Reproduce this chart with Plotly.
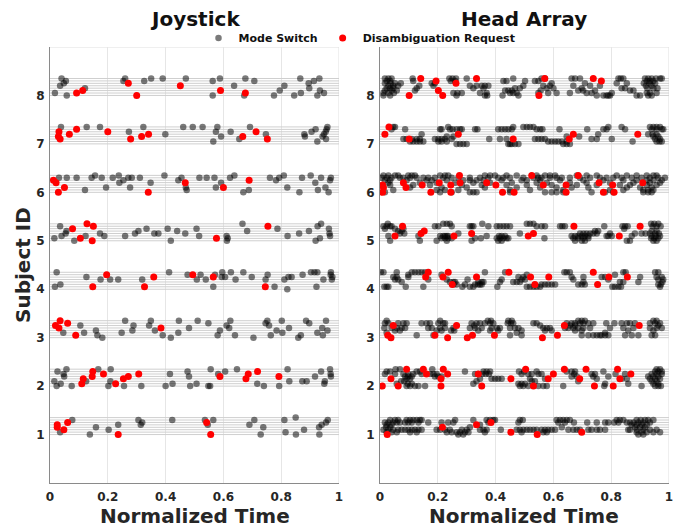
import plotly.graph_objects as go

# ---------------- data ----------------
subjects = [1, 2, 3, 4, 5, 6, 7, 8]
levels = [0, 1, 2, 3, 4, 5, 6, 7]      # band level inside each subject row
level_step = 0.05                       # y offset per band level
x_ticks = [0, 0.2, 0.4, 0.6, 0.8, 1]
x_tick_text = ["0", "0.2", "0.4", "0.6", "0.8", "1"]
panel_titles = ["Joystick", "Head Array"]

# Joystick: (normalized time, band level)
js1_mode = [(0.035,1),(0.077,6),(0.138,0),(0.159,3),(0.203,2),(0.236,4),(0.306,6),(0.314,4),(0.319,5),(0.423,6),(0.536,6),(0.546,4),(0.565,6),(0.690,4),(0.707,6),(0.729,0),(0.738,3),(0.811,6),(0.815,1),(0.850,7),(0.851,0),(0.879,2),(0.931,3),(0.932,0),(0.940,4),(0.955,5),(0.961,6)]
js1_dis = [(0.025,4),(0.025,3),(0.048,2),(0.061,5),(0.236,0),(0.542,5),(0.556,0)]
js2_mode = [(0.015,2),(0.023,0),(0.026,6),(0.037,1),(0.047,5),(0.049,4),(0.057,7),(0.075,0),(0.125,2),(0.167,7),(0.202,0),(0.210,7),(0.209,2),(0.256,0),(0.316,0),(0.400,0),(0.415,5),(0.424,1),(0.476,6),(0.481,4),(0.485,0),(0.507,1),(0.548,0),(0.554,0),(0.556,7),(0.582,5),(0.606,6),(0.647,7),(0.717,1),(0.740,0),(0.793,0),(0.822,7),(0.828,2),(0.873,2),(0.888,2),(0.917,4),(0.938,6),(0.949,1),(0.951,2),(0.969,7),(0.971,5),(0.972,4)]
js2_dis = [(0.110,1),(0.115,3),(0.148,6),(0.146,4),(0.185,5),(0.227,1),(0.254,3),(0.271,4),(0.307,5),(0.588,4),(0.678,3),(0.686,5),(0.718,6),(0.792,4)]
js3_mode = [(0.046,2),(0.105,5),(0.118,2),(0.159,3),(0.164,1),(0.181,0),(0.248,2),(0.260,7),(0.285,3),(0.289,5),(0.343,5),(0.349,7),(0.363,3),(0.390,1),(0.418,0),(0.444,2),(0.446,7),(0.481,4),(0.511,7),(0.548,6),(0.580,1),(0.588,3),(0.611,5),(0.624,7),(0.620,4),(0.640,1),(0.704,0),(0.746,6),(0.752,7),(0.758,5),(0.764,1),(0.784,3),(0.804,2),(0.802,7),(0.827,4),(0.859,0),(0.868,1),(0.886,7),(0.897,6),(0.925,2),(0.942,4),(0.944,1),(0.955,7),(0.960,3)]
js3_dis = [(0.019,5),(0.035,7),(0.031,4),(0.061,6),(0.089,1),(0.384,4)]
js4_mode = [(0.017,1),(0.023,7),(0.036,2),(0.126,5),(0.175,4),(0.208,4),(0.236,4),(0.319,4),(0.412,7),(0.476,6),(0.521,6),(0.508,4),(0.539,4),(0.565,1),(0.571,6),(0.596,7),(0.594,5),(0.606,5),(0.626,7),(0.642,4),(0.669,7),(0.698,5),(0.746,4),(0.753,6),(0.777,1),(0.811,4),(0.821,0),(0.825,5),(0.836,5),(0.874,6),(0.903,7),(0.915,7),(0.925,7),(0.922,1),(0.946,4),(0.971,6),(0.972,7),(0.977,5),(0.975,4)]
js4_dis = [(0.148,1),(0.196,6),(0.327,1),(0.359,5),(0.494,6),(0.565,5),(0.745,1)]
js5_mode = [(0.015,1),(0.035,6),(0.040,2),(0.054,3),(0.057,4),(0.084,0),(0.123,2),(0.173,3),(0.188,2),(0.260,2),(0.294,3),(0.306,4),(0.334,5),(0.361,3),(0.375,3),(0.407,5),(0.418,0),(0.440,4),(0.468,3),(0.507,5),(0.516,2),(0.611,2),(0.612,0),(0.615,1),(0.666,7),(0.682,4),(0.787,5),(0.822,2),(0.862,3),(0.896,4),(0.926,6),(0.938,7),(0.919,0),(0.934,1),(0.965,5),(0.967,3),(0.969,2)]
js5_dis = [(0.078,5),(0.105,1),(0.128,7),(0.150,6),(0.146,0),(0.576,1),(0.754,6)]
js6_mode = [(0.031,6),(0.058,6),(0.092,6),(0.121,1),(0.144,6),(0.156,7),(0.179,6),(0.194,2),(0.217,6),(0.238,7),(0.240,4),(0.254,5),(0.271,6),(0.283,6),(0.277,2),(0.311,6),(0.348,4),(0.396,7),(0.444,5),(0.455,6),(0.470,2),(0.473,1),(0.517,6),(0.542,6),(0.569,6),(0.574,2),(0.592,4),(0.623,6),(0.638,7),(0.669,0),(0.688,1),(0.761,6),(0.782,5),(0.793,6),(0.809,7),(0.821,2),(0.863,0),(0.872,6),(0.902,7),(0.918,4),(0.927,1),(0.938,6),(0.953,2),(0.964,0),(0.969,5),(0.972,6)]
js6_dis = [(0.012,5),(0.021,4),(0.029,0),(0.050,2),(0.340,0),(0.468,4),(0.600,2),(0.689,5)]
js7_mode = [(0.038,7),(0.127,7),(0.173,7),(0.273,5),(0.323,7),(0.399,4),(0.461,7),(0.494,7),(0.528,7),(0.579,7),(0.574,5),(0.565,1),(0.592,3),(0.625,5),(0.655,2),(0.692,7),(0.747,4),(0.880,4),(0.882,3),(0.905,5),(0.919,6),(0.925,1),(0.948,4),(0.954,5),(0.960,7),(0.957,6),(0.955,2),(0.943,3)]
js7_dis = [(0.031,5),(0.029,3),(0.035,2),(0.067,4),(0.092,6),(0.200,5),(0.279,2),(0.317,3),(0.341,4),(0.667,3),(0.713,5),(0.752,2)]
js8_mode = [(0.017,1),(0.035,4),(0.040,7),(0.048,5),(0.055,6),(0.058,0),(0.121,3),(0.254,6),(0.260,7),(0.326,6),(0.350,7),(0.390,7),(0.470,7),(0.563,6),(0.563,0),(0.588,7),(0.637,4),(0.672,0),(0.676,7),(0.707,6),(0.775,0),(0.795,2),(0.811,4),(0.845,0),(0.866,7),(0.868,1),(0.895,5),(0.897,3),(0.913,6),(0.932,7),(0.925,0),(0.934,2),(0.948,1)]
js8_dis = [(0.092,1),(0.113,2),(0.271,5),(0.300,0),(0.451,4),(0.590,2),(0.676,1)]

# Head Array: mode switches grouped by band level -> normalized times
ha1_mode = {
    6: [.035,.052,.063,.092,.104,.115,.127,.138,.144,.260,.323,.369,.381,.392,.398,.484,.494,.611,.623,.634,.646,.657,.819,.830,.842,.888,.902,.917,.928,.946],
    5: [.017,.029,.046,.058,.069,.087,.098,.110,.133,.167,.213,.236,.254,.375,.479,.617,.640,.671,.717,.750,.779,.790,.810,.825,.854,.865,.877,.894,.911,.934],
    4: [.023,.040,.346,.871,.888,.905,.923],
    3: [.021,.035,.311,.629,.882,.900,.917],
    2: [.012,.029,.046,.063,.075,.087,.098,.110,.121,.133,.144,.196,.208,.225,.242,.283,.300,.346,.358,.369,.418,.473,.484,.496,.508,.519,.531,.542,.559,.571,.582,.594,.606,.652,.669,.681,.692,.721,.732,.750,.761,.779,.859,.865,.888,.911,.934,.957],
    1: [.023,.040,.058,.104,.127,.231,.248,.265,.277,.294,.306,.363,.490,.565,.577,.888,.905,.923,.946,.969],
    0: [.271,.288,.894,.911],
}
ha1_dis = [(0.025,0),(0.216,3),(0.334,4),(0.384,5),(0.453,1),(0.544,0),(0.698,1)]
ha2_mode = {
    7: [.054,.069,.181,.957,.969],
    6: [.023,.035,.127,.138,.294,.358,.369,.381,.481,.499,.542,.646,.663,.675,.773,.952,.963,.975],
    5: [.017,.052,.081,.098,.115,.144,.173,.185,.196,.329,.340,.354,.366,.377,.490,.513,.525,.548,.559,.672,.732,.744,.815,.848,.940,.957,.975],
    4: [.087,.098,.110,.190,.202,.213,.663,.681,.738,.790,.928,.946,.963],
    3: [.092,.104,.346,.386,.398,.409,.421,.519,.571,.750,.836,.854,.934,.952,.969],
    2: [.073,.084,.334,.525,.536,.686,.940,.957],
    1: [.058,.096,.110,.323,.479,.490,.502,.779,.859,.946,.963],
    0: [.092,.104,.121,.133,.156,.484,.496,.513,.548,.565,.577,.634,.776,.905,.952,.963,.972],
}
ha2_dis = [(0.008,0),(0.038,3),(0.063,0),(0.092,7),(0.150,7),(0.161,5),(0.211,3),(0.211,0),(0.219,7),(0.234,5),(0.340,5),(0.352,0),(0.453,3),(0.504,7),(0.531,0),(0.582,3),(0.600,5),(0.638,7),(0.691,3),(0.713,7),(0.742,0),(0.807,0),(0.822,7),(0.830,3),(0.868,5)]
ha3_mode = {
    7: [.023,.208,.373,.384,.444,.456,.686,.698,.709,.946,.957],
    6: [.017,.029,.063,.081,.092,.144,.161,.173,.202,.219,.225,.317,.334,.346,.363,.381,.392,.442,.453,.461,.531,.542,.646,.663,.675,.692,.704,.721,.738,.783,.811,.836,.854,.865,.882,.934,.952,.969],
    5: [.326,.554,.657,.675,.963],
    4: [.015,.040,.058,.075,.087,.167,.179,.208,.225,.254,.311,.329,.352,.386,.404,.415,.450,.467,.479,.565,.577,.588,.640,.652,.669,.686,.704,.727,.796,.842,.877,.934,.957,.975],
    3: [.052,.069,.196,.213,.246,.257,.340,.381,.409,.490,.571,.594,.675,.698,.859,.946],
    2: [.023,.473,.779],
    1: [.127,.185,.450,.490,.698,.721,.738,.750,.761,.767,.779,.790,.848,.871,.894,.940,.952],
}
ha3_dis = [(0.046,5),(0.027,1),(0.038,0),(0.190,1),(0.234,0),(0.265,5),(0.302,0),(0.320,1),(0.396,1),(0.562,0),(0.614,1),(0.638,5),(0.897,5)]
ha4_mode = {
    7: [.003,.012,.058,.110,.121,.133,.144,.156,.363,.433,.638,.646,.657,.842,.850,.952,.963],
    6: [.098,.213,.508,.813],
    5: [.046,.058,.098,.479,.496,.663,.704,.767,.779,.900,.957,.975],
    4: [.052,.063,.167,.231,.303,.421,.490,.502,.669,.790,.963,.980],
    3: [.075,.242,.254,.260,.340,.352,.358,.415,.461,.473,.484,.704,.830,.842,.894,.977],
    2: [.254,.265,.294,.329,.340,.346,.352,.559,.571,.582,.594,.606,.686,.698,.709,.963,.972],
    1: [.015,.023,.029,.089,.150,.285,.311,.323,.406,.508,.519,.531,.542,.554,.804,.813,.825,.834,.969],
}
ha4_dis = [(0.167,7),(0.158,5),(0.236,7),(0.218,5),(0.250,2),(0.334,5),(0.446,7),(0.521,5),(0.536,2),(0.584,5),(0.738,7),(0.753,2),(0.792,5),(0.856,5)]
ha5_mode = {
    7: [.027,.219,.231,.242,.354,.508,.519,.531,.938,.949,.963],
    6: [.012,.023,.035,.040,.190,.202,.248,.311,.317,.323,.375,.404,.415,.427,.438,.450,.542,.559,.571,.623,.631,.640,.776,.839,.848,.857,.943,.957,.971],
    5: [.017,.052,.081,.845],
    4: [.063,.075,.744,.755,.940,.957],
    3: [.069,.084,.271,.484,.692,.704,.715,.727,.738,.750,.796,.882,.905,.919,.934,.952,.965],
    2: [.029,.133,.208,.219,.225,.231,.236,.369,.412,.421,.433,.663,.675,.686,.698,.709,.721,.784,.790,.802,.871,.940,.954,.969],
    1: [.213,.225,.236,.248,.329,.349,.404,.415,.427,.438,.444,.569,.669,.686,.704,.721,.938,.949,.963],
    0: [.035,.138,.196,.231,.317,.409,.421,.675,.698,.709,.854,.865,.946,.957],
}
ha5_dis = [(0.052,2),(0.078,6),(0.142,3),(0.153,4),(0.256,2),(0.317,3),(0.513,2),(0.531,3),(0.671,6),(0.828,2),(0.900,6)]
ha6_mode = {
    7: [.012,.029,.052,.063,.098,.110,.121,.208,.225,.236,.363,.381,.398,.438,.473,.542,.571,.588,.606,.681,.715,.750,.819,.854,.888,.923,.946,.957],
    6: [.006,.023,.040,.069,.081,.104,.127,.150,.167,.190,.219,.248,.271,.311,.346,.375,.409,.427,.450,.496,.531,.548,.559,.588,.611,.629,.657,.692,.727,.761,.784,.807,.836,.871,.905,.934,.963,.986],
    5: [.017,.035,.092,.161,.179,.231,.288,.311,.334,.358,.421,.490,.508,.554,.623,.704,.773,.842,.888,.923,.946,.975],
    4: [.029,.138,.196,.260,.323,.381,.456,.542,.577,.657,.715,.796,.877,.934,.969],
    3: [.035,.115,.173,.283,.352,.438,.508,.594,.681,.750,.830,.865,.923,.957],
    2: [.104,.213,.300,.363,.473,.554,.611,.663,.721,.854,.900,.940],
    1: [.046,.196,.225,.271,.450,.519,.634,.796,.842,.911,.928,.946],
    0: [.017,.208,.248,.311,.323,.334,.450,.571,.594,.611,.634,.732,.779,.807,.911,.928,.940],
}
ha6_dis = [(0.009,3),(0.012,2),(0.009,0),(0.081,4),(0.090,2),(0.146,3),(0.176,0),(0.205,4),(0.245,3),(0.245,0),(0.275,7),(0.277,4),(0.369,4),(0.401,3),(0.424,0),(0.464,0),(0.525,7),(0.565,3),(0.644,3),(0.644,0),(0.686,7),(0.758,4),(0.773,0),(0.805,3),(0.810,0),(0.909,4)]
ha7_mode = {
    7: [.046,.052,.236,.461,.496,.508,.519,.531,.790,.836,.934,.946,.957,.969],
    6: [.040,.087,.208,.213,.242,.251,.265,.277,.283,.329,.337,.409,.421,.433,.444,.456,.542,.554,.562,.621,.717,.773,.784,.848,.940,.957,.975,.980],
    4: [.144,.755,.928,.943,.957],
    3: [.231,.254,.646,.689,.946,.963],
    2: [.081,.092,.110,.127,.138,.190,.202,.213,.225,.248,.378,.415,.438,.536,.548,.559,.571,.732,.750,.802,.952,.969],
    1: [.104,.115,.127,.138,.150,.202,.213,.231,.582,.594,.606,.617,.629,.646,.874,.957,.967,.975],
    0: [.265,.277,.288,.300,.444,.450,.456,.467,.479,.634,.646,.657],
}
ha7_dis = [(0.017,4),(0.031,7),(0.101,2),(0.271,4),(0.461,2),(0.655,2),(0.669,4),(0.892,4)]
ha8_mode = {
    7: [.017,.029,.040,.113,.240,.251,.263,.300,.461,.559,.571,.663,.675,.692,.825,.833,.842,.917,.928,.940,.955,.969,.975],
    6: [.023,.035,.115,.245,.260,.427,.438,.502,.536,.548,.923,.934,.946],
    5: [.017,.037,.052,.072,.179,.190,.594,.709,.819,.854,.913,.932,.952],
    4: [.029,.046,.063,.136,.185,.311,.334,.352,.363,.375,.496,.565,.588,.669,.727,.761,.920,.940],
    3: [.023,.035,.046,.127,.323,.358,.467,.484,.577,.600,.698,.836,.848,.925,.946,.960],
    2: [.017,.040,.058,.121,.433,.444,.456,.556,.686,.703,.744,.865,.877],
    1: [.012,.029,.048,.254,.268,.283,.346,.369,.450,.461,.473,.548,.582,.611,.657,.715,.732,.802,.923,.934,.957],
    0: [.012,.035,.265,.363,.371,.424,.479,.750,.773,.784,.790,.796,.888,.900,.928,.940],
}
ha8_dis = [(0.141,7),(0.194,6),(0.202,2),(0.217,0),(0.101,0),(0.263,5),(0.334,7),(0.570,7),(0.550,0),(0.738,7),(0.766,6)]

js_mode = [js1_mode, js2_mode, js3_mode, js4_mode, js5_mode, js6_mode, js7_mode, js8_mode]
js_dis = [js1_dis, js2_dis, js3_dis, js4_dis, js5_dis, js6_dis, js7_dis, js8_dis]
ha_mode = [ha1_mode, ha2_mode, ha3_mode, ha4_mode, ha5_mode, ha6_mode, ha7_mode, ha8_mode]
ha_dis = [ha1_dis, ha2_dis, ha3_dis, ha4_dis, ha5_dis, ha6_dis, ha7_dis, ha8_dis]

# ---------------- helpers ----------------
def from_pairs(subj, pairs):
    return [p[0] for p in pairs], [subj + level_step * p[1] for p in pairs]

def from_levels(subj, d):
    xs, ys = [], []
    for k, vals in d.items():
        for v in vals:
            xs.append(v)
            ys.append(subj + level_step * k)
    return xs, ys

def collect(subject_data, fn):
    X, Y = [], []
    for s, d in zip(subjects, subject_data):
        x, y = fn(s, d)
        X += x
        Y += y
    return X, Y

FONT = "DejaVu Sans"
GRAY = "rgba(0,0,0,0.52)"
RED = "#ff0000"

fig = go.Figure()

# band lines
lx, ly = [], []
for s in subjects:
    for k in levels:
        lx += [0, 1, None]
        ly += [s + level_step * k] * 2 + [None]

panels = [
    ("x", "y", collect(js_mode, from_pairs), collect(js_dis, from_pairs), True),
    ("x2", "y2", collect(ha_mode, from_levels), collect(ha_dis, from_pairs), False),
]
for xa, ya, (mx, my), (dx, dy), show in panels:
    fig.add_trace(go.Scatter(x=lx, y=ly, mode="lines", xaxis=xa, yaxis=ya,
                             line=dict(color="#cfcfcf", width=1),
                             hoverinfo="skip", showlegend=False))
    fig.add_trace(go.Scatter(x=mx, y=my, mode="markers", xaxis=xa, yaxis=ya,
                             name="Mode Switch", legendgroup="ms", showlegend=show,
                             marker=dict(color=GRAY, size=6.5, line=dict(width=0))))
    fig.add_trace(go.Scatter(x=dx, y=dy, mode="markers", xaxis=xa, yaxis=ya,
                             name="Disambiguation Request", legendgroup="dr", showlegend=show,
                             marker=dict(color=RED, size=7, line=dict(width=0))))

tickfont = dict(family=FONT, size=12, color="#262626", weight="bold")
titlefont = dict(family=FONT, size=20, color="#262626", weight="bold")

xcommon = dict(range=[0, 1], tickvals=x_ticks, ticktext=x_tick_text, showgrid=True,
               gridcolor="#e6e6e6", gridwidth=1, zeroline=False, showline=True,
               linecolor="#8a8a8a", linewidth=1, ticks="outside", ticklen=3,
               tickcolor="rgba(0,0,0,0)", tickfont=tickfont, automargin=False)
ycommon = dict(range=[0, 9], tickvals=subjects, showgrid=False, zeroline=False,
               showline=True, linecolor="#8a8a8a", linewidth=1, ticks="outside",
               ticklen=2, tickcolor="rgba(0,0,0,0)", tickfont=tickfont, automargin=False)

# page body adds an 8px offset, so the figure is 8px smaller than the window
W, H = 683, 519
L, R, T, B = 42, 22, 39, 44
plot_w = W - L - R
plot_h = H - T - B

d1 = [0, 0.4669]
d2 = [0.5331, 1]
fig.update_layout(
    width=W, height=H,
    margin=dict(l=L, r=R, t=T, b=B, autoexpand=False),
    paper_bgcolor="white", plot_bgcolor="white",
    xaxis=dict(domain=d1, anchor="y", **xcommon),
    xaxis2=dict(domain=d2, anchor="y2", **xcommon),
    yaxis=dict(domain=[0, 1], anchor="x", **ycommon),
    yaxis2=dict(domain=[0, 1], anchor="x2", **ycommon),
    legend=dict(orientation="h", x=0.5, xanchor="center", y=1 + 9 / plot_h, yanchor="middle",
                font=dict(family=FONT, size=11, color="#111111", weight="bold"),
                bgcolor="rgba(0,0,0,0)", itemsizing="trace", tracegroupgap=0),
    showlegend=True,
)

# subplot titles, axis titles and light top/right frame
for dom, title, xa, ya in [(d1, panel_titles[0], "x", "y"), (d2, panel_titles[1], "x2", "y2")]:
    cx = (dom[0] + dom[1]) / 2
    fig.add_annotation(text=title, x=cx, y=1 + 28 / plot_h, xref="paper", yref="paper",
                       showarrow=False, xanchor="center", yanchor="middle",
                       font=dict(family=FONT, size=20, color="#111111", weight="bold"))
    fig.add_annotation(text="Normalized Time", x=cx, y=-33 / plot_h, xref="paper", yref="paper",
                       showarrow=False, xanchor="center", yanchor="middle", font=titlefont)
    fig.add_shape(type="line", xref=xa, yref=ya, x0=0, x1=1, y0=9, y1=9,
                  line=dict(color="#e0e0e0", width=1), layer="below")
    fig.add_shape(type="line", xref=xa, yref=ya, x0=1, x1=1, y0=0, y1=9,
                  line=dict(color="#e0e0e0", width=1), layer="below")

fig.add_annotation(text="Subject ID", x=-27 / plot_w, y=0.5, xref="paper", yref="paper",
                   showarrow=False, textangle=-90, xanchor="center", yanchor="middle",
                   font=titlefont)

fig.write_html("out.html")
